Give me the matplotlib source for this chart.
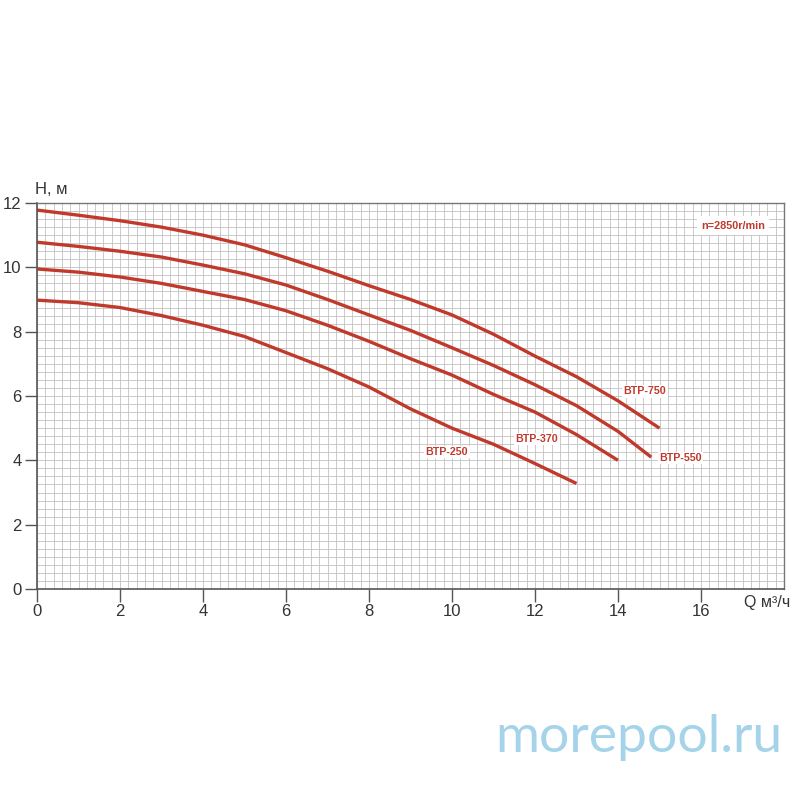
import numpy as np
import matplotlib
matplotlib.use('Agg')
import matplotlib.pyplot as plt
from matplotlib.ticker import MultipleLocator

# pump curves (Q in m3/h, H in m)
q_750 = [0, 1, 2, 3, 4, 5, 6, 7, 8, 9, 10, 11, 12, 13, 14, 15]
h_750 = [11.78, 11.62, 11.45, 11.25, 11.0, 10.7, 10.3, 9.88, 9.43, 9.0,
         8.52, 7.92, 7.24, 6.6, 5.85, 5.0]

q_550 = [0, 1, 2, 3, 4, 5, 6, 7, 8, 9, 10, 11, 12, 13, 14, 14.8]
h_550 = [10.78, 10.65, 10.5, 10.32, 10.07, 9.8, 9.45, 9.0, 8.52, 8.04,
         7.5, 6.95, 6.35, 5.7, 4.9, 4.1]

q_370 = [0, 1, 2, 3, 4, 5, 6, 7, 8, 9, 10, 11, 12, 13, 14]
h_370 = [9.95, 9.85, 9.7, 9.5, 9.25, 9.0, 8.65, 8.2, 7.7, 7.16,
         6.65, 6.05, 5.5, 4.8, 4.0]

q_250 = [0, 1, 2, 3, 4, 5, 6, 7, 8, 9, 10, 11, 12, 13]
h_250 = [8.98, 8.9, 8.75, 8.5, 8.2, 7.85, 7.35, 6.85, 6.28, 5.6,
         5.0, 4.5, 3.9, 3.28]

curve_names = ['BTP-750', 'BTP-550', 'BTP-370', 'BTP-250']
label_pos = [(14.65, 6.15), (15.5, 4.07), (12.05, 4.66), (9.88, 4.26)]

x_ticks = [0, 2, 4, 6, 8, 10, 12, 14, 16]
y_ticks = [0, 2, 4, 6, 8, 10, 12]

RED = '#c0392b'
TXT = '#333333'

plt.rcParams['font.family'] = ['Liberation Sans', 'DejaVu Sans']

fig = plt.figure(figsize=(8, 8), dpi=100)
ax = fig.add_axes([37 / 800, 211 / 800, 747 / 800, 386 / 800])

ax.set_xlim(0, 18)
ax.set_ylim(0, 12)
ax.xaxis.set_minor_locator(MultipleLocator(0.2))
ax.yaxis.set_minor_locator(MultipleLocator(0.25))
ax.set_xticks(x_ticks)
ax.set_yticks(y_ticks)
ax.grid(which='both', color='#c2c2c2', lw=0.6)
ax.set_axisbelow(True)
ax.tick_params(which='minor', length=0)
ax.tick_params(which='major', direction='out', length=9, width=1,
               color='#555555', labelsize=12, labelcolor=TXT, pad=2)

for side in ['left', 'bottom']:
    ax.spines[side].set_color('#555555')
    ax.spines[side].set_linewidth(1.2)
for side in ['top', 'right']:
    ax.spines[side].set_color('#777777')
    ax.spines[side].set_linewidth(1.0)

series = [(q_750, h_750), (q_550, h_550), (q_370, h_370), (q_250, h_250)]
for (q, h), name, (lx, ly) in zip(series, curve_names, label_pos):
    ax.plot(q, h, color=RED, lw=2.4, solid_capstyle='butt',
            solid_joinstyle='round')
    ax.text(lx, ly, name, color=RED, fontsize=7.7, fontweight='bold',
            ha='center', va='center',
            bbox=dict(facecolor='white', edgecolor='none', pad=1.0))

ax.text(16.77, 11.3, 'n=2850r/min', color=RED, fontsize=7.8, fontweight='bold',
        ha='center', va='center',
        bbox=dict(facecolor='white', edgecolor='none', pad=3))

fig.text(35 / 800, 1 - 190 / 800, 'H, м', color=TXT, fontsize=12,
         ha='left', va='center')
fig.text(744 / 800, 1 - 603 / 800, 'Q м³/ч', color=TXT, fontsize=11.5,
         ha='left', va='center')

# watermark
fig.text(782 / 800, 1 - 752 / 800, 'morepool.ru', color='#a4d3ea',
         fontsize=38.5, family='Lato', fontweight='normal',
         ha='right', va='baseline')

fig.savefig('out.png', dpi=100, facecolor='white')
